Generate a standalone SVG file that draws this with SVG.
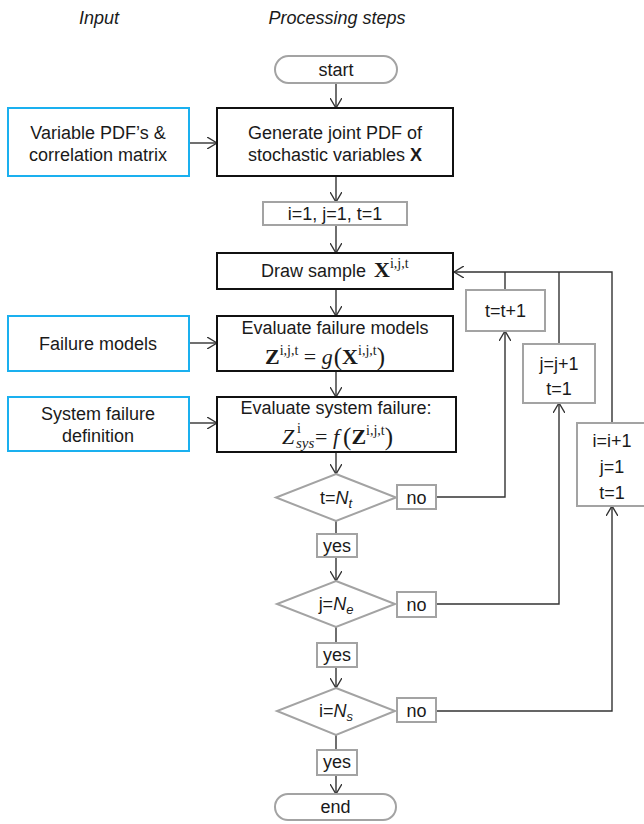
<svg xmlns="http://www.w3.org/2000/svg" width="644" height="824" viewBox="0 0 644 824">
<style>
text{font-family:"Liberation Sans",Arial,sans-serif;font-size:18px;fill:#1a1a1a}
.hd{font-style:italic}
.c{text-anchor:middle}
.m{font-family:"Liberation Serif","Times New Roman",serif;font-size:22px}
.b{font-weight:bold}
.i{font-style:italic}
.sup{font-size:14px}
.blk{fill:#fff;stroke:#111;stroke-width:2}
.blu{fill:#fff;stroke:#1ab0ef;stroke-width:2}
.gry{fill:#fff;stroke:#a3a3a3;stroke-width:2}
.con{fill:none;stroke:#333;stroke-width:1.4}
</style>
<defs>
<marker id="arr" viewBox="0 0 10 12" refX="10" refY="6" markerWidth="10" markerHeight="12" markerUnits="userSpaceOnUse" orient="auto">
<path d="M0,0 L10,6 L0,12" fill="none" stroke="#333" stroke-width="1.4"/>
</marker>
</defs>
<rect width="644" height="824" fill="#fff"/>
<text class="hd c" x="99" y="24">Input</text>
<text class="hd c" x="337" y="24">Processing steps</text>

<g id="connectors">
<path class="con" d="M336,83 V108" marker-end="url(#arr)"/>
<path class="con" d="M189,143 H217" marker-end="url(#arr)"/>
<path class="con" d="M336,176 V202" marker-end="url(#arr)"/>
<path class="con" d="M336,225 V253" marker-end="url(#arr)"/>
<path class="con" d="M336,289 V316" marker-end="url(#arr)"/>
<path class="con" d="M189,343 H217" marker-end="url(#arr)"/>
<path class="con" d="M336,371 V397" marker-end="url(#arr)"/>
<path class="con" d="M189,423 H217" marker-end="url(#arr)"/>
<path class="con" d="M336,452 V474" marker-end="url(#arr)"/>
<path class="con" d="M336,521 V534"/>
<path class="con" d="M336,557 V581" marker-end="url(#arr)"/>
<path class="con" d="M336,627 V643"/>
<path class="con" d="M336,667 V688" marker-end="url(#arr)"/>
<path class="con" d="M336,735 V750"/>
<path class="con" d="M336,775 V794" marker-end="url(#arr)"/>
<path class="con" d="M436,497 H505 V331" marker-end="url(#arr)"/>
<path class="con" d="M436,604 H559 V403" marker-end="url(#arr)"/>
<path class="con" d="M436,711 H612 V506" marker-end="url(#arr)"/>
<path class="con" d="M612,423 V272 H454" marker-end="url(#arr)"/>
<path class="con" d="M505,290 V272"/>
<path class="con" d="M559,344 V272"/>
</g>

<g id="start">
<rect class="gry" x="275" y="56" width="122" height="27" rx="13.5"/>
<text class="c" x="336" y="76">start</text>
</g>

<g id="in-pdf">
<rect class="blu" x="8" y="108" width="181" height="68"/>
<text class="c" x="98" y="138.5">Variable PDF’s &amp;</text>
<text class="c" x="98" y="160.5">correlation matrix</text>
</g>

<g id="generate">
<rect class="blk" x="217" y="108" width="236" height="68"/>
<text class="c" x="335" y="138.5">Generate joint PDF of</text>
<text class="c" x="335" y="160.5">stochastic variables <tspan class="b">X</tspan></text>
</g>

<g id="init">
<rect class="gry" x="263" y="202" width="144" height="23"/>
<text class="c" x="335" y="220">i=1, j=1, t=1</text>
</g>

<g id="draw">
<rect class="blk" x="217" y="253" width="236" height="36"/>
<text x="261" y="277">Draw sample <tspan class="m b" dx="3">X</tspan><tspan class="m sup" dy="-9">i,j,t</tspan></text>
</g>

<g id="in-fail">
<rect class="blu" x="8" y="316" width="181" height="55"/>
<text class="c" x="98" y="349.5">Failure models</text>
</g>

<g id="eval">
<rect class="blk" x="217" y="316" width="236" height="55"/>
<text class="c" x="335" y="334">Evaluate failure models</text>
<text class="m" x="265" y="364"><tspan class="b">Z</tspan><tspan class="sup" dy="-9">i,j,t</tspan><tspan dy="9"> = </tspan><tspan class="i">g</tspan><tspan font-size="25" dy="1" dx="1">(</tspan><tspan class="b" dy="-1">X</tspan><tspan class="sup" dy="-9">i,j,t</tspan><tspan font-size="25" dy="10">)</tspan></text>
</g>

<g id="in-sys">
<rect class="blu" x="8" y="397" width="181" height="54"/>
<text class="c" x="98" y="419.5">System failure</text>
<text class="c" x="98" y="441.5">definition</text>
</g>

<g id="system">
<rect class="blk" x="217" y="397" width="239" height="55"/>
<text class="c" x="336" y="414">Evaluate system failure:</text>
<text class="m" y="444"><tspan class="i" x="282">Z</tspan><tspan class="sup" x="297" y="433">i</tspan><tspan class="i" font-size="15" x="296" y="448">sys</tspan><tspan x="315" y="444">= </tspan><tspan class="i">f</tspan><tspan font-size="25" dy="1" dx="4">(</tspan><tspan class="b" dy="-1">Z</tspan><tspan class="sup" dy="-9">i,j,t</tspan><tspan font-size="25" dy="10">)</tspan></text>
</g>

<g id="dec-t">
<polygon class="gry" points="336,474 396,497.5 336,521 276,497.5"/>
<text class="c" x="336" y="504">t=<tspan class="i">N</tspan><tspan class="i" font-size="13" dy="4">t</tspan></text>
</g>
<g id="no-t">
<rect class="gry" x="397" y="485" width="39" height="24"/>
<text class="c" x="416.5" y="503.5">no</text>
</g>
<g id="yes-t">
<rect class="gry" x="317" y="534" width="40" height="23"/>
<text class="c" x="337" y="551.5">yes</text>
</g>

<g id="dec-j">
<polygon class="gry" points="336,581 395,604 336,627 277,604"/>
<text class="c" x="336" y="610">j=<tspan class="i">N</tspan><tspan class="i" font-size="13" dy="4">e</tspan></text>
</g>
<g id="no-j">
<rect class="gry" x="397" y="592" width="39" height="25"/>
<text class="c" x="416.5" y="610.5">no</text>
</g>
<g id="yes-j">
<rect class="gry" x="317" y="643" width="40" height="24"/>
<text class="c" x="337" y="661">yes</text>
</g>

<g id="dec-i">
<polygon class="gry" points="336,688 395,711 336,735 277,711"/>
<text class="c" x="336" y="717">i=<tspan class="i">N</tspan><tspan class="i" font-size="13" dy="4">s</tspan></text>
</g>
<g id="no-i">
<rect class="gry" x="397" y="698" width="39" height="24"/>
<text class="c" x="416.5" y="716.5">no</text>
</g>
<g id="yes-i">
<rect class="gry" x="317" y="750" width="40" height="25"/>
<text class="c" x="337" y="768">yes</text>
</g>

<g id="end">
<rect class="gry" x="275" y="794" width="121" height="26" rx="13"/>
<text class="c" x="335.5" y="813">end</text>
</g>

<g id="inc-t">
<rect class="gry" x="466" y="290" width="79" height="41"/>
<text class="c" x="505.5" y="317">t=t+1</text>
</g>

<g id="inc-j">
<rect class="gry" x="523" y="344" width="72" height="59"/>
<text class="c" x="559" y="369.5">j=j+1</text>
<text class="c" x="559" y="394.5">t=1</text>
</g>

<g id="inc-i">
<rect class="gry" x="577" y="423" width="70" height="83"/>
<text class="c" x="612" y="446.5">i=i+1</text>
<text class="c" x="612" y="473">j=1</text>
<text class="c" x="612" y="498.5">t=1</text>
</g>
</svg>
